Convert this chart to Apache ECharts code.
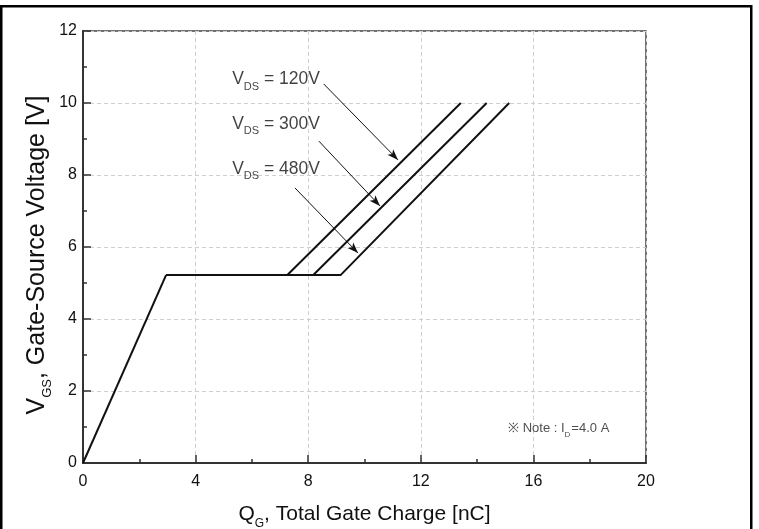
<!DOCTYPE html>
<html>
<head>
<meta charset="utf-8">
<script src="https://cdn.jsdelivr.net/npm/echarts@6/dist/echarts.min.js"></script>
<style>
html,body{margin:0;padding:0;background:#fff;}
#chart{width:759px;height:529px;}
</style>
</head>
<body>
<div id="chart"></div>
<script>
// ---- data ----
var xTicks = [0, 4, 8, 12, 16, 20];
var yTicks = [0, 2, 4, 6, 8, 10, 12];
var riseCurve = [[0, 0], [2.95, 5.22]];
var vds120 = [[2.95, 5.22], [7.26, 5.22], [13.42, 10.0]];
var vds300 = [[7.26, 5.22], [8.18, 5.22], [14.34, 10.0]];
var vds480 = [[8.18, 5.22], [9.15, 5.22], [15.14, 10.0]];
var labelNames = ['120V', '300V', '480V'];
var labelPos = [[5.3, 10.65], [5.3, 9.42], [5.3, 8.17]];
var arrowStart = [[8.55, 10.53], [8.38, 8.94], [7.53, 7.64]];
var arrowEnd = [[11.19, 8.42], [10.55, 7.14], [9.77, 5.83]];
var notePos = [15.1, 0.95];
var noteText = '\u203B Note : I';
var noteValue = '=4.0 A';

var FONT = '"Liberation Sans", Arial, sans-serif';

var chart = echarts.init(document.getElementById('chart'), null, {renderer: 'canvas'});

function lineSeries(name, data) {
  return {
    name: name, type: 'line', data: data, symbol: 'none', silent: true,
    lineStyle: {color: '#111', width: 2}, z: 5
  };
}

var labelData = labelNames.map(function (n, i) {
  return {value: labelPos[i], name: n};
});

var arrowData = arrowStart.map(function (s, i) {
  return [{coord: s, symbol: 'none'}, {coord: arrowEnd[i], symbol: 'arrow', symbolSize: [6, 11]}];
});

var option = {
  backgroundColor: '#fff',
  animation: false,
  grid: {
    left: 83, top: 31, right: 113, bottom: 66,
    containLabel: false, outerBoundsMode: 'none',
    show: true, borderColor: '#444', borderWidth: 1.5, backgroundColor: 'transparent'
  },
  xAxis: {
    type: 'value', min: 0, max: 20, interval: 4,
    name: '{q|Q}{sub|G}{t|, Total Gate Charge [nC]}',
    nameLocation: 'middle', nameGap: 38,
    nameTextStyle: {
      rich: {
        q: {fontFamily: FONT, fontSize: 21, color: '#111', lineHeight: 26},
        sub: {fontFamily: FONT, fontSize: 12, color: '#111', verticalAlign: 'bottom', lineHeight: 26, padding: [0, 0, -3, 0]},
        t: {fontFamily: FONT, fontSize: 21, color: '#111', lineHeight: 26}
      }
    },
    axisLine: {show: true, onZero: false, lineStyle: {color: '#333', width: 2}},
    axisTick: {show: true, inside: true, length: 8, lineStyle: {color: '#333', width: 1.5}},
    minorTick: {show: true, splitNumber: 2, length: 4, lineStyle: {color: '#333', width: 1.5}},
    axisLabel: {fontFamily: FONT, fontSize: 16, color: '#111', margin: 11},
    splitLine: {show: true, lineStyle: {color: '#cfcfcf', type: [4, 3], width: 1}}
  },
  yAxis: {
    type: 'value', min: 0, max: 12, interval: 2,
    name: '{q|V}{sub|GS}{t|, Gate-Source Voltage [V]}',
    nameLocation: 'middle', nameGap: 32, nameMoveOverlap: false,
    nameTextStyle: {
      padding: [0, 16, 0, 0],
      rich: {
        q: {fontFamily: FONT, fontSize: 25, color: '#111', lineHeight: 28},
        sub: {fontFamily: FONT, fontSize: 13, color: '#111', verticalAlign: 'bottom', lineHeight: 28, padding: [0, 0, -3, 0]},
        t: {fontFamily: FONT, fontSize: 25, color: '#111', lineHeight: 28}
      }
    },
    axisLine: {show: true, onZero: false, lineStyle: {color: '#333', width: 2}},
    axisTick: {show: true, inside: true, length: 8, lineStyle: {color: '#333', width: 1.5}},
    minorTick: {show: true, splitNumber: 2, length: 4, lineStyle: {color: '#333', width: 1.5}},
    axisLabel: {fontFamily: FONT, fontSize: 16, color: '#111', margin: 6},
    splitLine: {show: true, lineStyle: {color: '#cfcfcf', type: [4, 3], width: 1}}
  },
  series: [
    lineSeries('rise', riseCurve),
    lineSeries('120V', vds120),
    lineSeries('300V', vds300),
    lineSeries('480V', vds480),
    {
      name: 'labels', type: 'scatter', symbolSize: 0, silent: true, data: labelData,
      label: {
        show: true, position: 'right', distance: 0,
        formatter: function (p) { return '{v|V}{sub|DS}{t| = ' + p.name + '}'; },
        rich: {
          v: {fontFamily: FONT, fontSize: 17.5, color: '#111', lineHeight: 22},
          sub: {fontFamily: FONT, fontSize: 11, color: '#111', verticalAlign: 'bottom', lineHeight: 22, padding: [0, 0, -2, 0]},
          t: {fontFamily: FONT, fontSize: 17.5, color: '#111', lineHeight: 22}
        }
      },
      markLine: {
        silent: true, symbol: ['none', 'arrow'], symbolSize: [6, 11],
        label: {show: false},
        lineStyle: {color: '#111', width: 1, type: 'solid'},
        data: arrowData
      },
      z: 6
    },
    {
      name: 'note', type: 'scatter', symbolSize: 0, silent: true,
      data: [{value: notePos, name: 'note'}],
      label: {
        show: true, position: 'right', distance: 0,
        formatter: function () { return '{t|' + noteText + '}{sub|D}{t|' + noteValue + '}'; },
        rich: {
          t: {fontFamily: FONT, fontSize: 13, color: '#222', lineHeight: 16},
          sub: {fontFamily: FONT, fontSize: 8, color: '#222', verticalAlign: 'bottom', lineHeight: 16, padding: [0, 1, -2, 0]}
        }
      }
    }
  ],
  graphic: [{
    type: 'rect', silent: true, z: 100,
    shape: {x: 1.25, y: 6.25, width: 750, height: 600},
    style: {fill: 'none', stroke: '#000', lineWidth: 2.5}
  }]
};
chart.setOption(option);
</script>
</body>
</html>
